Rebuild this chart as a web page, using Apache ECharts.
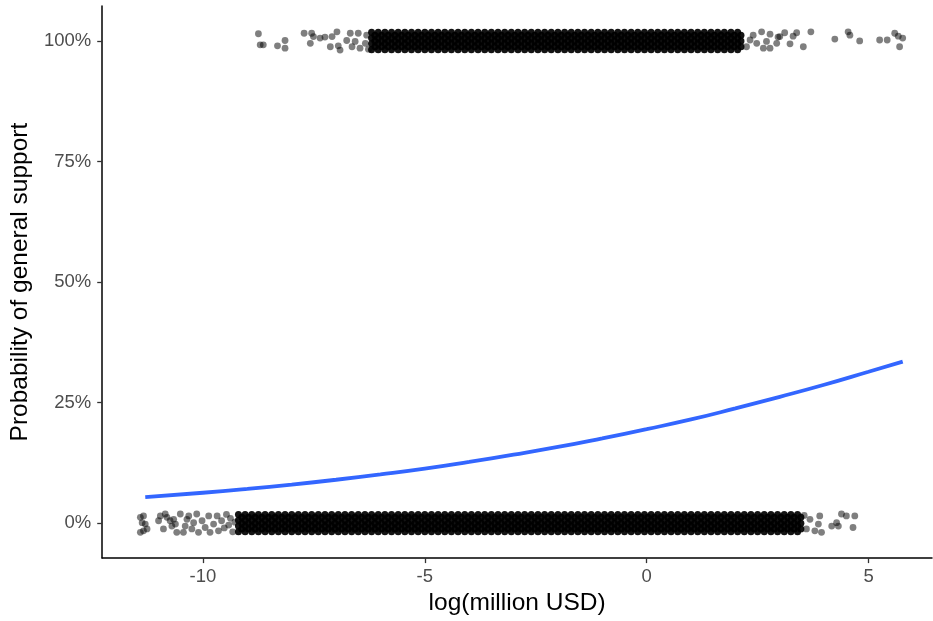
<!DOCTYPE html>
<html>
<head>
<meta charset="utf-8">
<script src="https://cdn.jsdelivr.net/npm/echarts@6/dist/echarts.min.js"></script>
<style>
html,body{margin:0;padding:0;background:#fff;}
#chart{width:933px;height:621px;}
</style>
</head>
<body>
<div id="chart"></div>
<script>
const xTicks = [-10, -5, 0, 5];
const yTicks = [0, 0.25, 0.5, 0.75, 1];

// fitted logistic curve
const curveX = [-11.3, -10, -9, -8, -7, -6, -5, -4, -3, -2, -1, 0, 1, 2, 3, 4, 5, 5.77];
const curveY = [0.054, 0.063, 0.071, 0.080, 0.090, 0.101, 0.113, 0.127, 0.142, 0.158, 0.176, 0.195, 0.215, 0.238, 0.262, 0.287, 0.314, 0.335];

// dense parts of the two jittered bands (x positions)
const zeroDenseX = [-9.2,-9.05,-8.9,-8.75,-8.6,-8.45,-8.3,-8.15,-8.0,-7.85,-7.7,-7.55,-7.4,-7.25,-7.1,-6.95,-6.8,-6.65,-6.5,-6.35,-6.2,-6.05,-5.9,-5.75,-5.6,-5.45,-5.3,-5.15,-5.0,-4.85,-4.7,-4.55,-4.4,-4.25,-4.1,-3.95,-3.8,-3.65,-3.5,-3.35,-3.2,-3.05,-2.9,-2.75,-2.6,-2.45,-2.3,-2.15,-2.0,-1.85,-1.7,-1.55,-1.4,-1.25,-1.1,-0.95,-0.8,-0.65,-0.5,-0.35,-0.2,-0.05,0.1,0.25,0.4,0.55,0.7,0.85,1.0,1.15,1.3,1.45,1.6,1.75,1.9,2.05,2.2,2.35,2.5,2.65,2.8,2.95,3.1,3.25,3.4];
const oneDenseX = [-6.2,-6.05,-5.9,-5.75,-5.6,-5.45,-5.3,-5.15,-5.0,-4.85,-4.7,-4.55,-4.4,-4.25,-4.1,-3.95,-3.8,-3.65,-3.5,-3.35,-3.2,-3.05,-2.9,-2.75,-2.6,-2.45,-2.3,-2.15,-2.0,-1.85,-1.7,-1.55,-1.4,-1.25,-1.1,-0.95,-0.8,-0.65,-0.5,-0.35,-0.2,-0.05,0.1,0.25,0.4,0.55,0.7,0.85,1.0,1.15,1.3,1.45,1.6,1.75,1.9,2.05];
// jitter pattern inside the dense bands: [dx, dy]
const bandJitter = [[0,-0.018],[0.075,-0.012],[0,-0.006],[0.075,0],[0,0.006],[0.075,0.012],[0,0.018]];

// sparse points at the band ends [x, y]
const zeroSparse = [
 [-11.41,0.012],[-11.34,0.015],[-11.37,0.001],[-11.30,-0.002],[-11.41,-0.019],[-11.34,-0.016],[-11.26,-0.012],
 [-10.96,0.015],[-11.00,0.005],[-10.85,0.019],[-10.81,0.012],[-10.89,-0.012],[-10.74,0.005],[-10.66,0.008],
 [-10.62,-0.002],[-10.70,-0.006],[-10.51,0.019],[-10.59,-0.019],[-10.44,-0.019],[-10.40,-0.006],[-10.36,0.008],
 [-10.32,0.015],[-10.25,-0.012],[-10.21,0.001],[-10.14,0.019],[-10.10,-0.019],[-10.02,0.005],[-9.95,-0.009],
 [-9.87,0.015],[-9.84,-0.019],[-9.76,-0.002],[-9.68,0.015],[-9.65,-0.016],[-9.58,0.005],[-9.52,-0.010],
 [-9.47,0.018],[-9.42,-0.004],[-9.38,0.010],[-9.33,-0.018],[-9.28,0.002],
 [3.55,0.016],[3.60,-0.012],[3.68,0.008],[3.79,-0.016],[3.87,-0.002],[3.90,0.015],[3.94,-0.019],
 [4.17,-0.006],[4.28,0.001],[4.32,-0.006],[4.39,0.019],[4.50,0.015],[4.69,0.015],[4.65,-0.009]
];
const oneSparse = [
 [-8.75,1.015],[-8.71,0.992],[-8.64,0.992],[-8.32,0.990],[-8.15,1.001],[-8.15,0.985],[-7.72,1.016],
 [-7.55,1.016],[-7.51,1.009],[-7.58,0.995],[-7.36,1.006],[-7.25,1.008],[-7.13,0.988],[-6.98,1.019],
 [-7.09,1.009],[-6.95,0.990],[-6.91,0.981],[-6.76,1.001],[-6.68,1.016],[-6.64,0.988],[-6.57,0.999],
 [-6.50,1.016],[-6.46,0.985],[-6.34,0.995],[-6.31,1.012],[-6.27,0.983],
 [2.25,0.988],[2.33,1.002],[2.40,1.012],[2.48,0.995],[2.59,1.019],[2.63,0.985],[2.70,0.999],[2.78,1.014],
 [2.78,0.985],[2.93,0.995],[2.96,1.008],[3.00,1.009],[3.11,1.017],[3.23,0.994],[3.30,1.010],[3.38,1.017],
 [3.53,0.988],[3.70,1.019],[4.24,1.004],[4.54,1.019],[4.58,1.012],[4.80,1.000],[5.25,1.002],[5.42,1.002],
 [5.59,1.016],[5.67,1.010],[5.77,1.006],[5.70,0.988]
];

const denseData = [];
zeroDenseX.forEach(x => bandJitter.forEach(j => denseData.push([x + j[0], 0 + j[1]])));
oneDenseX.forEach(x => bandJitter.forEach(j => denseData.push([x + j[0], 1 + j[1]])));
const sparseData = zeroSparse.concat(oneSparse);
const curveData = curveX.map((x, i) => [x, curveY[i]]);

const FONT = '"Liberation Sans", Arial, sans-serif';
const chart = echarts.init(document.getElementById('chart'), null, {renderer: 'canvas'});
chart.setOption({
  animation: false,
  backgroundColor: '#ffffff',
  grid: {left: 101, right: 1, top: 6, bottom: 62, containLabel: false},
  xAxis: {
    type: 'value', min: -12.27, max: 6.43,
    name: 'log(million USD)', nameLocation: 'middle', nameGap: 31,
    nameTextStyle: {color: '#000', fontSize: 24.5, fontFamily: FONT},
    axisLine: {show: true, onZero: false, lineStyle: {color: '#000', width: 1.5}},
    axisTick: {show: true, length: 5, customValues: xTicks, lineStyle: {color: '#333', width: 1.3}},
    axisLabel: {show: true, customValues: xTicks, margin: 9, color: '#4d4d4d', fontSize: 18.5, fontFamily: FONT},
    splitLine: {show: false}
  },
  yAxis: {
    type: 'value', min: -0.0725, max: 1.0725,
    name: 'Probability of general support', nameLocation: 'middle', nameGap: 68, nameRotate: 90,
    nameTextStyle: {color: '#000', fontSize: 24.5, fontFamily: FONT},
    axisLine: {show: true, onZero: false, lineStyle: {color: '#000', width: 1.5}},
    axisTick: {show: true, length: 5, customValues: yTicks, lineStyle: {color: '#333', width: 1.3}},
    axisLabel: {show: true, customValues: yTicks, margin: 11, color: '#4d4d4d', fontSize: 18.5, fontFamily: FONT,
      formatter: v => Math.round(v * 100) + '%'},
    splitLine: {show: false}
  },
  series: [
    {type: 'scatter', data: denseData, symbol: 'circle', symbolSize: 7, silent: true, large: false,
     itemStyle: {color: '#000', opacity: 0.92}},
    {type: 'scatter', data: sparseData, symbol: 'circle', symbolSize: 6.8, silent: true,
     itemStyle: {color: '#000', opacity: 0.5}},
    {type: 'line', data: curveData, smooth: true, showSymbol: false, silent: true,
     lineStyle: {color: '#3366FF', width: 3.8}, z: 5}
  ]
});
</script>
</body>
</html>
